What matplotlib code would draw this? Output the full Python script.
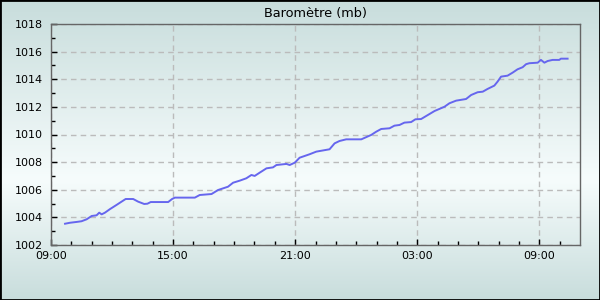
import numpy as np
import matplotlib
matplotlib.use('Agg')
import matplotlib.pyplot as plt

# hours since 09:00 and pressure in mb
hours = [0.69, 0.93, 1.26, 1.5, 1.75, 2.0, 2.24, 2.37, 2.49, 2.65, 2.9, 3.22, 3.47, 3.67,
         4.04, 4.28, 4.58, 4.74, 4.9, 5.76, 5.95, 6.09, 7.07, 7.31, 7.89, 8.21, 8.7, 8.95,
         9.28, 9.6, 9.85, 10.01, 10.26, 10.59, 10.91, 11.08, 11.57, 11.73, 11.98, 12.22,
         12.71, 13.04, 13.69, 13.94, 14.18, 14.51, 15.25, 15.74, 15.98, 16.23, 16.64, 16.88,
         17.13, 17.37, 17.7, 17.91, 18.19, 18.52, 18.85, 19.34, 19.58, 19.91, 20.4, 20.65,
         20.97, 21.22, 21.46, 21.79, 21.95, 22.12, 22.44, 22.69, 22.93, 23.18, 23.35, 23.51,
         23.92, 24.08, 24.25, 24.41, 24.65, 24.98, 25.06, 25.39]
pressure = [1003.54, 1003.61, 1003.67, 1003.72, 1003.86, 1004.1, 1004.15, 1004.34, 1004.22,
            1004.34, 1004.6, 1004.9, 1005.14, 1005.33, 1005.33, 1005.14, 1004.97, 1004.99,
            1005.11, 1005.11, 1005.33, 1005.43, 1005.43, 1005.62, 1005.69, 1005.98, 1006.22,
            1006.51, 1006.66, 1006.83, 1007.07, 1007.0, 1007.24, 1007.55, 1007.62, 1007.79,
            1007.87, 1007.79, 1007.96, 1008.32, 1008.57, 1008.76, 1008.93, 1009.36, 1009.53,
            1009.65, 1009.65, 1009.97, 1010.2, 1010.4, 1010.45, 1010.64, 1010.69, 1010.86,
            1010.9, 1011.1, 1011.12, 1011.41, 1011.7, 1012.01, 1012.26, 1012.45, 1012.57,
            1012.86, 1013.06, 1013.1, 1013.3, 1013.54, 1013.83, 1014.19, 1014.26, 1014.48,
            1014.72, 1014.87, 1015.09, 1015.16, 1015.2, 1015.4, 1015.2, 1015.32, 1015.4,
            1015.4, 1015.49, 1015.49]

x_ticks = [0, 6, 12, 18, 24]
x_labels = ['09:00', '15:00', '21:00', '03:00', '09:00']
y_ticks = [1002, 1004, 1006, 1008, 1010, 1012, 1014, 1016, 1018]

fig = plt.figure(figsize=(6, 3), dpi=100)

# background gradient (dark at top and bottom, almost white near the lower middle)
bg = fig.add_axes([0, 0, 1, 1], zorder=-10)
t = np.linspace(0, 1, 300)
peak = 0.6
w = np.where(t < peak, t / peak, (1 - t) / (1 - peak))
edge = np.array([200, 221, 220]) / 255
white = np.array([246, 252, 252]) / 255
cols = np.empty((300, 1, 3))
for i in range(300):
    cols[i, 0] = edge + (white - edge) * w[i]
bg.imshow(cols, aspect='auto', extent=[0, 1, 0, 1])
bg.set_axis_off()
bg.add_patch(plt.Rectangle((0, 0), 1, 1, fill=False, edgecolor='black', linewidth=2,
                           transform=bg.transAxes))

ax = fig.add_axes([51 / 600, 55 / 300, 529 / 600, 221 / 300])
ax.set_facecolor('none')
ax.plot(hours, pressure, color='#6666ee', linewidth=1.4)

ax.set_xlim(0, 26)
ax.set_ylim(1002, 1018)
ax.set_xticks(x_ticks)
ax.set_xticklabels(x_labels)
ax.set_xticks(np.arange(0, 26, 1), minor=True)
ax.set_yticks(y_ticks)
ax.set_yticks(np.arange(1003, 1018, 2), minor=True)

ax.tick_params(which='major', direction='in', length=4, width=1, labelsize=8, pad=6)
ax.tick_params(which='minor', direction='in', length=3, width=1)
ax.tick_params(axis='x', pad=4)
ax.grid(True, which='major', linestyle=(0, (4, 3)), color='#bbbbbb', linewidth=1)

for side in ['top', 'right', 'bottom', 'left']:
    ax.spines[side].set_color('#666666')
    ax.spines[side].set_linewidth(1)

ax.set_title('Baromètre (mb)', fontsize=9.3, pad=5)

fig.savefig('out.png', dpi=100)
